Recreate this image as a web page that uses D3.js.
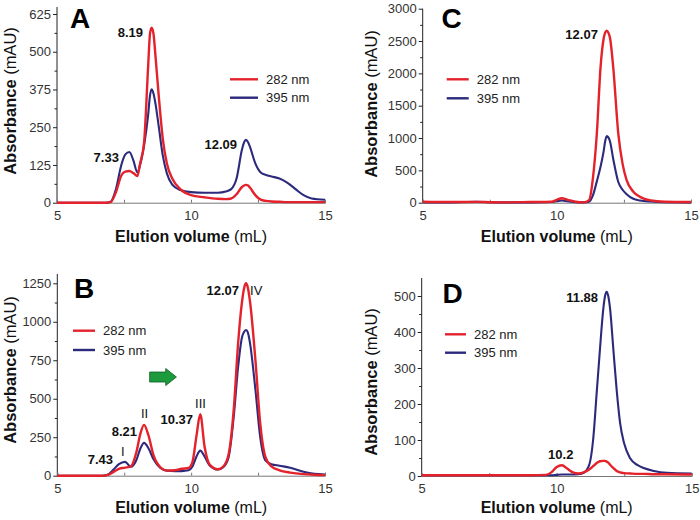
<!DOCTYPE html>
<html><head><meta charset="utf-8">
<script src="https://cdn.jsdelivr.net/npm/d3@7"></script>
<style>
body{margin:0;background:#fff;}
svg{display:block;font-family:Arial,"Liberation Sans",sans-serif;}
</style></head>
<body><svg id="chart" width="700" height="520"></svg>
<script>
// ---------------- DATA ----------------
// Panel A
const volA = [5, 6, 6.8, 7.0, 7.2, 7.4, 7.55, 7.7, 7.85, 8.0, 8.1, 8.25, 8.4, 8.47, 8.53, 8.6, 8.68, 8.8, 8.95, 9.1, 9.3, 9.6, 10.0, 10.5, 11.0, 11.3, 11.5, 11.7, 11.9, 11.98, 12.05, 12.13, 12.2, 12.4, 12.6, 12.8, 13.0, 13.3, 13.6, 13.9, 14.2, 14.5, 15];
const a282A = [0, 0, 0, 2, 35, 90, 103, 105, 98, 88, 130, 200, 450, 560, 580, 560, 480, 350, 210, 130, 80, 45, 25, 18, 13, 12, 14, 28, 52, 57, 59, 57, 50, 25, 10, 6, 4, 3, 2, 2, 2, 2, 2];
const a395A = [0, 0, 0, 3, 45, 125, 160, 168, 140, 100, 125, 190, 290, 355, 376, 362, 325, 250, 155, 97, 60, 42, 35, 33, 33, 37, 45, 80, 175, 200, 208, 200, 185, 130, 100, 92, 87, 80, 66, 45, 25, 14, 10];
// Panel B
const volB = [5, 6, 6.7, 6.9, 7.1, 7.3, 7.53, 7.75, 7.95, 8.1, 8.24, 8.4, 8.6, 8.85, 9.1, 9.4, 9.65, 9.9, 10.05, 10.2, 10.34, 10.5, 10.7, 11.0, 11.2, 11.4, 11.6, 11.75, 11.9, 11.98, 12.05, 12.12, 12.2, 12.4, 12.58, 12.77, 13.0, 13.3, 13.7, 14.2, 14.6, 15];
const a282B = [0, 0, 0, 5, 25, 45, 52, 60, 150, 270, 330, 265, 130, 55, 33, 35, 45, 50, 90, 260, 400, 190, 70, 42, 60, 140, 450, 850, 1130, 1220, 1250, 1220, 1130, 752, 340, 124, 60, 35, 20, 10, 6, 4];
const a395B = [0, 0, 0, 8, 40, 75, 90, 58, 100, 175, 213, 180, 105, 50, 33, 30, 30, 35, 60, 125, 163, 125, 65, 40, 55, 120, 400, 700, 900, 935, 947, 930, 860, 560, 250, 100, 75, 65, 52, 25, 12, 8];
// Panel C
const volC = [5, 6, 7, 7.5, 8, 9, 9.8, 10.0, 10.18, 10.4, 10.7, 11.0, 11.2, 11.35, 11.49, 11.63, 11.75, 11.8, 11.86, 11.92, 11.98, 12.1, 12.29, 12.45, 12.6, 12.85, 13.1, 13.5, 14, 15];
const a282C = [15, 10, 12, 8, 5, 10, 15, 45, 68, 45, 15, 5, 40, 400, 1070, 2100, 2550, 2630, 2660, 2630, 2550, 2100, 1070, 600, 350, 170, 90, 35, 15, 10];
const a395C = [5, 5, 15, 8, 5, 5, 10, 25, 35, 22, 8, 5, 15, 120, 330, 560, 810, 950, 1030, 1010, 950, 680, 320, 200, 130, 60, 35, 18, 8, 5];
// Panel D
const volD = [5, 7, 9, 9.6, 9.8, 10.0, 10.19, 10.4, 10.6, 10.8, 11.0, 11.2, 11.36, 11.48, 11.6, 11.72, 11.79, 11.85, 11.91, 11.97, 12.1, 12.22, 12.35, 12.5, 12.72, 13.0, 13.22, 13.6, 14.08, 15];
const a282D = [2, 2, 2, 3, 10, 25, 30, 20, 10, 7, 10, 18, 28, 36, 41, 42, 42, 40, 37, 32, 22, 14, 10, 8, 7, 6, 6, 5, 5, 4];
const a395D = [2, 2, 2, 2, 2, 3, 4, 4, 4, 5, 9, 30, 109, 230, 350, 460, 500, 512, 500, 470, 350, 240, 146, 90, 49, 30, 22, 14, 9, 7];

// Tick labels
const xTicks = [5, 10, 15];
const xMinor = [7.5, 12.5];
const yTicksA = [0, 125, 250, 375, 500, 625];
const yTicksB = [0, 250, 500, 750, 1000, 1250];
const yTicksC = [0, 500, 1000, 1500, 2000, 2500, 3000];
const yTicksD = [0, 100, 200, 300, 400, 500];
const seriesNames = ["282 nm", "395 nm"];
const panelLetters = ["A", "B", "C", "D"];

// Peak annotations (text, elution volume, absorbance)
const notesA = [["8.19", 8.21, 550, "end", true], ["7.33", 7.31, 136, "end", true], ["12.09", 11.72, 179, "end", true]];
const notesB = [["12.07", 11.79, 1177, "end", true], ["IV", 12.2, 1177, "start", false], ["III", 10.35, 437, "middle", false],
                ["10.37", 10.07, 333, "end", true], ["II", 8.26, 378, "middle", false], ["8.21", 7.98, 258, "end", true],
                ["I", 7.45, 128, "middle", false], ["7.43", 7.08, 76, "end", true]];
const notesC = [["12.07", 11.53, 2539, "end", true]];
const notesD = [["11.88", 11.53, 483, "end", true], ["10.2", 10.15, 48, "middle", true]];

// ---------------- LAYOUT ----------------
const RED = "#e4222b", BLUE = "#2c2a7c";
const svg = d3.select("#chart");

const panels = [
  {letter: panelLetters[0], vol: volA, s1: a282A, s2: a395A, yTicks: yTicksA, notes: notesA,
   x0: 57, x1: 325, yb: 202.7, yt: 14, axisTopPx: 7, letterX: 70, letterY: 28,
   legX: 230, legLen: 28, legY: 79.3, legGap: 18.4, ylabX: 16, ylabY: 101, xlabY: 241.5},
  {letter: panelLetters[1], vol: volB, s1: a282B, s2: a395B, yTicks: yTicksB, notes: notesB,
   x0: 57.3, x1: 325, yb: 475.7, yt: 283.3, axisTopPx: 274, letterX: 74, letterY: 298,
   legX: 73, legLen: 22, legY: 330.7, legGap: 19.3, ylabX: 16, ylabY: 370, xlabY: 513,
   arrow: [8.45, 9.45, 641]},
  {letter: panelLetters[2], vol: volC, s1: a282C, s2: a395C, yTicks: yTicksC, notes: notesC,
   x0: 422.7, x1: 691, yb: 202.7, yt: 8.7, axisTopPx: 8.7, letterX: 441.5, letterY: 28,
   legX: 446.7, legLen: 22, legY: 79.3, legGap: 19, ylabX: 377, ylabY: 104, xlabY: 241.5},
  {letter: panelLetters[3], vol: volD, s1: a282D, s2: a395D, yTicks: yTicksD, notes: notesD,
   x0: 421.7, x1: 691.7, yb: 476, yt: 296, axisTopPx: 278, letterX: 442.5, letterY: 303,
   legX: 445, legLen: 21, legY: 334.3, legGap: 18.4, ylabX: 377, ylabY: 382, xlabY: 513}
];

panels.forEach(p => {
  const g = svg.append("g");
  const yMax = p.yTicks[p.yTicks.length - 1];
  const x = d3.scaleLinear().domain([5, 15]).range([p.x0, p.x1]);
  const y = d3.scaleLinear().domain([0, yMax]).range([p.yb, p.yt]);
  const step = p.yTicks[1] - p.yTicks[0];
  const yMinor = p.yTicks.slice(0, -1).map(v => v + step / 2);

  // y axis
  const yAx = g.append("g").attr("transform", `translate(${p.x0},0)`)
    .call(d3.axisLeft(y).tickValues(p.yTicks).tickSize(4).tickPadding(2).tickFormat(d3.format("d")));
  yAx.select(".domain").remove();
  yAx.selectAll("text").attr("font-size", 13).attr("fill", "#333").attr("font-family", "Arial, 'Liberation Sans', sans-serif");
  yAx.selectAll("line").attr("stroke", "#222");
  const yMin = g.append("g").attr("transform", `translate(${p.x0},0)`)
    .call(d3.axisLeft(y).tickValues(yMinor).tickSize(2.5).tickFormat(""));
  yMin.select(".domain").remove();
  yMin.selectAll("line").attr("stroke", "#222");
  g.append("line").attr("x1", p.x0).attr("x2", p.x0).attr("y1", p.axisTopPx).attr("y2", p.yb)
    .attr("stroke", "#222").attr("stroke-width", 1);

  // x axis
  const xAx = g.append("g").attr("transform", `translate(0,${p.yb})`)
    .call(d3.axisBottom(x).tickValues(xTicks).tickSize(-3).tickPadding(7.8).tickFormat(d3.format("d")));
  xAx.select(".domain").attr("stroke", "#777");
  xAx.selectAll("text").attr("font-size", 13).attr("fill", "#333").attr("font-family", "Arial, 'Liberation Sans', sans-serif");
  xAx.selectAll("line").attr("stroke", "#777");
  const xMin = g.append("g").attr("transform", `translate(0,${p.yb})`)
    .call(d3.axisBottom(x).tickValues(xMinor).tickSize(-3).tickFormat(""));
  xMin.select(".domain").remove();
  xMin.selectAll("line").attr("stroke", "#777");

  // lines
  const line = d3.line().x(d => x(d[0])).y(d => y(d[1])).curve(d3.curveMonotoneX);
  g.append("path").datum(p.vol.map((v, i) => [v, p.s2[i]]))
    .attr("d", line).attr("fill", "none").attr("stroke", BLUE).attr("stroke-width", 2.1);
  g.append("path").datum(p.vol.map((v, i) => [v, p.s1[i]]))
    .attr("d", line).attr("fill", "none").attr("stroke", RED).attr("stroke-width", 2.4);

  // panel letter
  g.append("text").attr("x", p.letterX).attr("y", p.letterY).attr("font-size", 28)
    .attr("font-weight", "bold").attr("fill", "#000").text(p.letter);

  // legend
  [RED, BLUE].forEach((c, i) => {
    const ly = p.legY + i * p.legGap;
    g.append("line").attr("x1", p.legX).attr("x2", p.legX + p.legLen).attr("y1", ly).attr("y2", ly)
      .attr("stroke", c).attr("stroke-width", 2.4);
    g.append("text").attr("x", p.legX + p.legLen + 8).attr("y", ly).attr("dy", "0.35em")
      .attr("font-size", 13).attr("fill", "#222").text(seriesNames[i]);
  });

  // annotations
  p.notes.forEach(n => {
    g.append("text").attr("x", x(n[1])).attr("y", y(n[2])).attr("text-anchor", n[3])
      .attr("font-size", 13).attr("font-weight", n[4] ? "bold" : "normal").attr("fill", "#111").text(n[0]);
  });

  // green arrow
  if (p.arrow) {
    const ax0 = x(p.arrow[0]), ax1 = x(p.arrow[1]), ay = y(p.arrow[2]);
    const bodyEnd = ax0 + (ax1 - ax0) * 0.6;
    const pts = [[ax0, ay - 5], [bodyEnd, ay - 5], [bodyEnd, ay - 8.5], [ax1, ay], [bodyEnd, ay + 8.5], [bodyEnd, ay + 5], [ax0, ay + 5]];
    g.append("polygon").attr("points", pts.map(q => q.join(",")).join(" "))
      .attr("fill", "#1c9a3c").attr("stroke", "#0e5e22").attr("stroke-width", 0.8);
  }

  // axis titles
  const xt = g.append("text").attr("x", (p.x0 + p.x1) / 2).attr("y", p.xlabY).attr("text-anchor", "middle")
    .attr("font-size", 16).attr("fill", "#111");
  xt.append("tspan").attr("font-weight", "bold").text("Elution volume");
  xt.append("tspan").text(" (mL)");
  const yt = g.append("text").attr("transform", `translate(${p.ylabX},${p.ylabY}) rotate(-90)`)
    .attr("text-anchor", "middle").attr("font-size", 16.5).attr("fill", "#111");
  yt.append("tspan").attr("font-weight", "bold").text("Absorbance");
  yt.append("tspan").text(" (mAU)");
});
</script></body></html>
